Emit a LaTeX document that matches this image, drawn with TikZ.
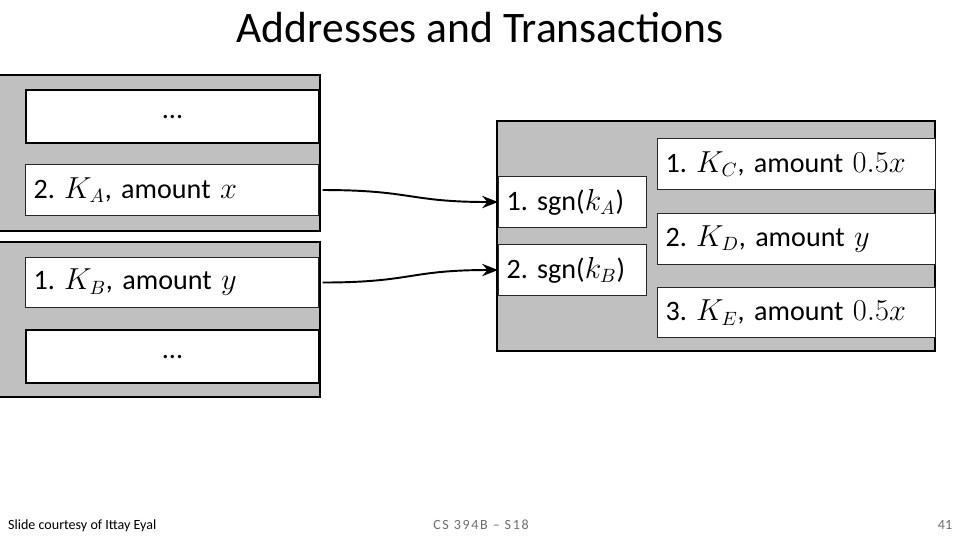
\documentclass[tikz,border=0pt]{standalone}
\usepackage{fontspec}
\setmainfont{Carlito}
\usetikzlibrary{arrows.meta,positioning}
\definecolor{blockgray}{RGB}{192,192,192}
\definecolor{footgray}{RGB}{110,110,110}

\tikzset{
	block/.style={draw=black, line width=1.2pt, fill=blockgray},
	entry/.style={draw=black!85, line width=0.6pt, fill=white, anchor=north west,
		font=\fontsize{16}{18}\selectfont, inner xsep=0.16cm, inner ysep=0pt,
		align=left, text width=#1},
	dots/.style={entry=#1, line width=1.2pt, draw=black, align=center},
	link/.style={line width=1.1pt, -{Stealth[length=9pt,width=7pt]}}
}

\begin{document}
\begin{tikzpicture}[x=0.02cm,y=-0.02cm]
	\useasboundingbox (0,0) rectangle (960,540);
	% title
	\node (title) at (480,28) {\fontsize{24.8}{28}\selectfont Addresses and Transactions};

	% left: two addresses
	\draw[block] (-2,75) rectangle (320,231);
	\draw[block] (-2,242) rectangle (320,397);
	\node[dots=5.54cm, minimum height=1.06cm] (topdots) at (25,89) {...};
	\node[entry=5.54cm, minimum height=1.02cm] (lA) at (25,164) {2.\ $K_A$, amount $x$};
	\node[entry=5.54cm, minimum height=1.0cm] (lB) at (25,257) {1.\ $K_B$, amount $y$};
	\node[dots=5.54cm, minimum height=1.06cm] (botdots) at (25,329) {...};

	% right: the transaction
	\draw[block] (497,121) rectangle (935,351);
	\node[entry=2.64cm, minimum height=1.02cm] (sA) at (498,176) {1.\ sgn($k_A$)};
	\node[entry=2.64cm, minimum height=1.02cm] (sB) at (498,244) {2.\ sgn($k_B$)};
	\node[entry=5.24cm, minimum height=1.02cm] (oC) at (657,138) {1.\ $K_C$, amount $0.5x$};
	\node[entry=5.24cm, minimum height=1.02cm] (oD) at (657,213) {2.\ $K_D$, amount $y$};
	\node[entry=5.24cm, minimum height=1.0cm] (oE) at (657,287) {3.\ $K_E$, amount $0.5x$};

	% inputs
	\draw[link] ([xshift=2pt]lA.east) .. controls +(90,0) and +(-90,0) .. (sA.west);
	\draw[link] ([xshift=2pt]lB.east) .. controls +(90,0) and +(-90,0) .. (sB.west);

	% footer
	\node[anchor=west, font=\fontsize{8}{9}\selectfont] (credit) at (2,526) {Slide courtesy of Ittay Eyal};
	\node[font=\fontsize{8}{9}\selectfont\addfontfeatures{LetterSpace=12}, text=footgray] (course) at (481,525) {CS 394B -- S18};
	\node[font=\fontsize{8}{9}\selectfont, text=footgray] (page) at (945,525) {41};
\end{tikzpicture}
\end{document}
